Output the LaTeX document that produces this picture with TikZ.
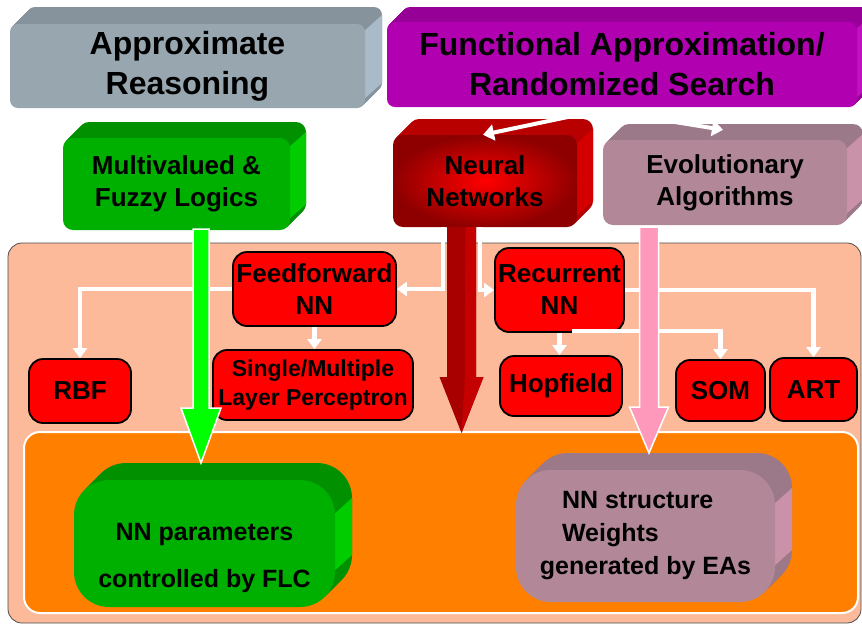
\documentclass[tikz,border=0pt]{standalone}
\usepackage{fontspec}
\setmainfont{Liberation Sans}
\usetikzlibrary{arrows.meta}
\definecolor{cGrayF}{HTML}{98A6B0}\definecolor{cGrayT}{HTML}{86939C}\definecolor{cGrayS}{HTML}{A9BAC8}
\definecolor{cPurF}{HTML}{B000B0}\definecolor{cPurT}{HTML}{960096}\definecolor{cPurS}{HTML}{C010C0}
\definecolor{cGreF}{HTML}{00B000}\definecolor{cGreT}{HTML}{009000}\definecolor{cGreS}{HTML}{00CC00}
\definecolor{cNNin}{HTML}{FF0000}\definecolor{cNNout}{HTML}{8E0000}\definecolor{cNNT}{HTML}{B80000}\definecolor{cNNS}{HTML}{D40000}
\definecolor{cEAF}{HTML}{B28898}\definecolor{cEAT}{HTML}{9C7988}\definecolor{cEAS}{HTML}{C992A8}
\definecolor{cSalmon}{HTML}{FDBA9A}\definecolor{cOrange}{HTML}{FF7F00}
\definecolor{cPink}{HTML}{FF99BB}\definecolor{cLime}{HTML}{00FF00}\definecolor{cDark}{HTML}{A80000}\definecolor{cDarkS}{HTML}{C40000}
\tikzset{
  grayF/.style={fill=cGrayF}, grayT/.style={fill=cGrayT}, grayS/.style={fill=cGrayS},
  purF/.style={fill=cPurF}, purT/.style={fill=cPurT}, purS/.style={fill=cPurS},
  greF/.style={fill=cGreF}, greT/.style={fill=cGreT}, greS/.style={fill=cGreS},
  nnF/.style={inner color=cNNin, outer color=cNNout}, nnT/.style={fill=cNNT}, nnS/.style={fill=cNNS},
  eaF/.style={fill=cEAF}, eaT/.style={fill=cEAT}, eaS/.style={fill=cEAS},
  fTop/.style={font=\fontsize{32}{40}\selectfont\bfseries},
  fMid/.style={font=\fontsize{26}{32}\selectfont\bfseries},
  fBot/.style={font=\fontsize{25}{33}\selectfont\bfseries},
  rednode/.style={fill=red, draw=black, line width=1.8pt, rounded corners=14pt, inner sep=0pt,
    align=center, font=\fontsize{26}{32}\selectfont\bfseries},
  conn/.style={draw=white, line width=4.5pt, -{Triangle[width=14pt,length=10pt]}},
  bigwhite/.style={draw=white, line width=1.5pt},
}
% 3D box: name, center, width, height, depth, colour prefix, radius, font style, text
\newcommand{\ThreeD}[9]{%
  \coordinate (#1-c) at (#2);
  \foreach \dd in {#5,...,1}{%
    \fill[#6T, rounded corners=#7pt] ([shift={(-#3/2+\dd,-#4/2-\dd)}]#1-c) rectangle ([shift={(#3/2+\dd,#4/2-\dd)}]#1-c);}
  \fill[#6S] ([shift={(#3/2-2,-#4/2+#7)}]#1-c) -- ([shift={(#3/2+#5,-#4/2+#7-#5)}]#1-c)
     -- ([shift={(#3/2+#5,#4/2-#7-#5)}]#1-c) -- ([shift={(#3/2-2,#4/2-#7)}]#1-c) -- cycle;
  \node[#6F, #8, rounded corners=#7pt, minimum width=#3pt, minimum height=#4pt, inner sep=0pt, align=center] (#1) at (#1-c) {#9};
}
% big arrow: start, tip, half shaft, half head, head length, style
\newcommand{\BigArrow}[6]{%
  \path[#6] ([xshift=-#3pt]#1) -- ([xshift=-#3pt,yshift=#5pt]#2) -- ([xshift=-#4pt,yshift=#5pt]#2) -- (#2)
    -- ([xshift=#4pt,yshift=#5pt]#2) -- ([xshift=#3pt,yshift=#5pt]#2) -- ([xshift=#3pt]#1) -- cycle;
}
\begin{document}
\begin{tikzpicture}[x=1pt,y=-1pt]
\useasboundingbox (0,0) rectangle (862,625);
\clip (0,0) rectangle (862,625);
\fill[white] (0,0) rectangle (862,625);

% panels
\draw[fill=cSalmon, draw=black!70, line width=0.8pt, rounded corners=14pt] (8,243) rectangle (861,623);
\draw[fill=cOrange, draw=white, line width=2pt, rounded corners=16pt] (24,432) rectangle (858,613);

% top boxes
\ThreeD{ar}{187.5,66}{355}{84}{17}{gray}{8}{fTop}{Approximate\\Reasoning}
\ThreeD{fa}{622,64.5}{470}{85}{15}{pur}{8}{fTop}{Functional Approximation/\\Randomized Search}
\ThreeD{mv}{176.5,184}{227}{92}{16}{gre}{10}{fMid}{Multivalued \&\\Fuzzy Logics}
\ThreeD{nn}{485,181}{184}{92}{16}{nn}{10}{fMid}{Neural\\Networks}
\ThreeD{ea}{725,182.5}{244}{85}{16}{ea}{10}{fMid}{Evolutionary\\Algorithms}

% red nodes
\node[rednode, minimum width=163pt, minimum height=74pt] (ff) at (314.5,289) {Feedforward\\NN};
\node[rednode, minimum width=129pt, minimum height=84pt] (rec) at (559.5,290) {Recurrent\\NN};
\node[rednode, minimum width=102pt, minimum height=64pt] (rbf) at (80,391) {RBF};
\node[rednode, minimum width=200pt, minimum height=70pt, font=\fontsize{23}{29}\selectfont\bfseries] (sl) at (313,385) {Single/Multiple\\Layer Perceptron};
\node[rednode, minimum width=122pt, minimum height=60pt] (hop) at (561,386) {Hopfield};
\node[rednode, minimum width=89pt, minimum height=61pt] (som) at (720.5,390.5) {SOM};
\node[rednode, minimum width=87pt, minimum height=63pt] (art) at (813.5,389.5) {ART};

% white connectors
\draw[conn] ([xshift=-42pt]nn.south) |- (ff.east);
\draw[conn] ([xshift=-5pt]nn.south) |- (rec.west);
\draw[conn] (ff.west) -| (rbf.north);
\draw[conn] (ff.south) -- (ff.south |- sl.north);
\draw[conn] (rec.east) -| (art.north);
\draw[conn] (rec.south) -- (rec.south |- hop.north);
\draw[conn] ([xshift=12pt,yshift=2pt]rec.south) -| (som.north);

% bottom boxes
\ThreeD{gbot}{204.5,543.5}{261}{127}{17}{gre}{35}{fBot}{\rule{0pt}{46pt}NN parameters\\[14pt]controlled by FLC}
\ThreeD{ebot}{645.5,536}{259}{132}{17}{ea}{35}{fBot}{\makebox[225pt][l]{\hspace{29pt}NN structure}\\\makebox[225pt][l]{\hspace{29pt}Weights}\\generated by EAs}

% big arrows
\coordinate (gs) at (201,229);
\coordinate (ge) at (201,463);
\BigArrow{gs}{ge}{8}{20}{55}{fill=cLime, bigwhite}
\coordinate (rs) at (461.5,227);
\coordinate (re) at (461.5,433);
\BigArrow{rs}{re}{14.5}{22}{56}{fill=cDark}
\fill[cDarkS] ([xshift=4pt]rs) -- ([xshift=14.5pt]rs) -- ([xshift=14.5pt,yshift=56pt]re) -- ([xshift=22pt,yshift=56pt]re) -- (re) -- ([xshift=3pt,yshift=46pt]re) -- cycle;
\coordinate (ps) at (649,227);
\coordinate (pe) at (649,453);
\BigArrow{ps}{pe}{9.5}{19.5}{46}{fill=cPink, bigwhite}

% split arrows from the functional box
\coordinate (split) at (601,110);
\draw[conn, line width=4pt, -{Triangle[width=16pt,length=11pt]}] (split) -- ([xshift=-2pt]nn.north);
\draw[conn, line width=4pt, -{Triangle[width=16pt,length=11pt]}] (split) -- ([xshift=-2pt,yshift=10pt]ea.north);
\end{tikzpicture}
\end{document}
